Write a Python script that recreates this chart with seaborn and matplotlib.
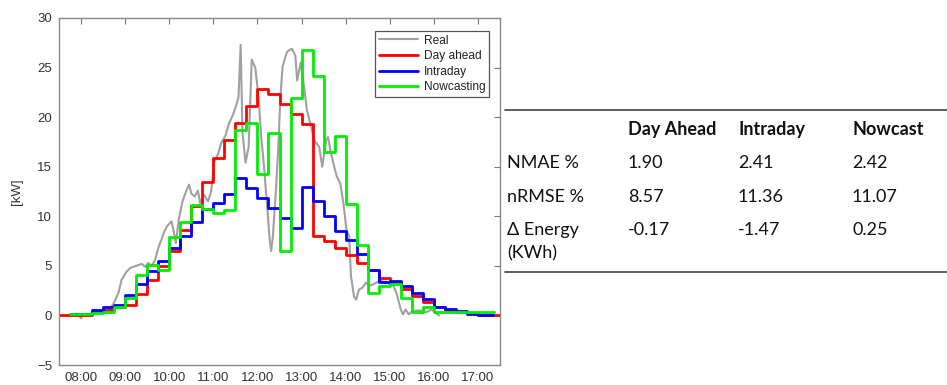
import numpy as np
import pandas as pd
import matplotlib
matplotlib.use("Agg")
import matplotlib.pyplot as plt
from matplotlib.lines import Line2D
import seaborn as sns

# ---------------- data ----------------
tick_hours = [8, 9, 10, 11, 12, 13, 14, 15, 16, 17]
tick_labels = ["08:00", "09:00", "10:00", "11:00", "12:00", "13:00",
               "14:00", "15:00", "16:00", "17:00"]

# measured power (time in decimal hours, kW)
real_t = [7.75, 7.95, 8.0, 8.05, 8.3, 8.55, 8.65, 8.75, 8.85, 8.92, 9.03, 9.12,
          9.25, 9.38, 9.45, 9.52, 9.6, 9.68, 9.75, 9.82, 9.88, 9.95, 10.05,
          10.1, 10.15, 10.22, 10.3, 10.38, 10.45, 10.5, 10.58, 10.65, 10.7,
          10.78, 10.88, 10.95, 11.02, 11.1, 11.18, 11.28, 11.35, 11.45, 11.52,
          11.57, 11.62, 11.66, 11.73, 11.8, 11.87, 11.95, 12.03, 12.08, 12.15,
          12.22, 12.28, 12.31, 12.35, 12.42, 12.47, 12.52, 12.57, 12.67, 12.78,
          12.86, 12.9, 12.98, 13.06, 13.12, 13.22, 13.28, 13.4, 13.47, 13.56,
          13.6, 13.67, 13.74, 13.8, 13.88, 13.95, 14.02, 14.08, 14.12, 14.19,
          14.24, 14.3, 14.38, 14.46, 14.53, 14.62, 14.69, 14.8, 14.9, 14.98,
          15.08, 15.15, 15.25, 15.3, 15.36, 15.43, 15.5, 15.6, 15.7, 15.82,
          15.95, 16.05, 16.12]
real_v = [0.0, 0.05, -0.3, 0.1, 0.2, 0.3, 0.6, 1.3, 2.3, 3.6, 4.4, 4.8,
          5.0, 5.2, 4.9, 5.3, 5.0, 5.6, 6.8, 7.6, 8.4, 9.0, 9.5,
          8.5, 7.3, 9.8, 11.5, 12.5, 13.2, 12.3, 12.0, 12.6, 11.3,
          12.2, 11.5, 12.5, 15.5, 16.2, 17.4, 18.2, 19.3, 20.3, 21.2,
          22.0, 27.3, 18.5, 15.4, 17.0, 25.8, 25.0, 21.8, 18.3, 15.0,
          11.0, 7.5, 6.5, 8.0, 12.7, 16.7, 22.0, 25.1, 26.6, 26.9,
          26.2, 23.7, 25.5, 23.0, 20.7, 19.0, 17.7, 17.0, 15.0, 17.7,
          18.0, 16.3, 15.0, 14.0, 13.3, 11.3, 8.6, 8.0, 4.0, 1.9,
          1.6, 2.6, 2.8, 3.3, 3.0, 3.1, 3.3, 3.5, 3.3, 3.2,
          3.0, 2.3, 0.6, 0.1, 0.6, 0.1, 0.4, 0.5, 0.5, 0.3,
          0.6, 0.2, 0.0]

# 15-minute forecasts (kW); first slot start and end of last slot in hours
day_ahead_start, day_ahead_end = 7.5, 17.5
day_ahead = [0.0, 0.0, 0.0, 0.3, 0.5, 0.8, 1.1, 2.2, 3.6, 5.0, 6.5, 8.6, 11.0,
             13.5, 15.9, 17.7, 19.4, 21.1, 22.8, 22.3, 21.3, 20.3, 19.3, 8.05,
             7.5, 6.8, 6.05, 5.3, 4.6, 3.8, 3.3, 2.7, 1.95, 1.35, 0.8, 0.5,
             0.35, 0.2, 0.05, 0.05]

intraday_start, intraday_end = 7.75, 17.33
intraday = [0.1, 0.1, 0.5, 0.85, 1.1, 2.1, 3.2, 4.45, 5.5, 6.8, 8.05, 9.4,
            10.7, 11.3, 12.2, 13.9, 12.9, 11.85, 10.85, 9.8, 8.8, 13.0, 11.5,
            10.0, 8.5, 7.65, 6.15, 4.6, 3.35, 3.45, 3.0, 2.3, 1.65, 0.9, 0.6,
            0.4, 0.12, 0.05, 0.05]

nowcast_start, nowcast_end = 7.75, 17.37
nowcast = [0.15, 0.15, 0.2, 0.3, 0.8, 1.8, 4.1, 5.1, 4.6, 7.9, 9.4, 11.1,
           10.7, 10.3, 10.6, 18.7, 19.4, 14.3, 18.4, 6.5, 21.9, 26.8, 24.2,
           16.5, 18.1, 11.2, 7.1, 2.3, 3.0, 3.2, 1.8, 0.3, 0.9, 0.35, 0.35,
           0.35, 0.35, 0.35, 0.35]

series_names = ["Real", "Day ahead", "Intraday", "Nowcasting"]
series_colors = ["#a0a0a0", "#ff0000", "#0000ff", "#00ee00"]

# table
table_cols = ["Day Ahead", "Intraday", "Nowcast"]
table_rows = ["NMAE %", "nRMSE %", "\u0394 Energy\n(KWh)"]
table_vals = [["1.90", "2.41", "2.42"],
              ["8.57", "11.36", "11.07"],
              ["-0.17", "-1.47", "0.25"]]

# ---------------- figure ----------------
sns.set_style("white")
plt.rcParams["font.family"] = ["Liberation Sans", "DejaVu Sans"]

W, H = 947, 385
fig = plt.figure(figsize=(W / 100, H / 100), dpi=100)
ax = fig.add_axes([59 / W, 1 - 365 / H, 441 / W, 347 / H])


def step_frame(start, end, vals):
    t = start + 0.25 * np.arange(len(vals))
    t = np.append(t, end)
    v = np.append(vals, vals[-1])
    return pd.DataFrame({"t": t, "v": v})


sns.lineplot(x=real_t, y=real_v, ax=ax, color=series_colors[0], lw=1.5,
             label=series_names[0], estimator=None, sort=False)
for (start, end, vals), name, col in zip(
        [(day_ahead_start, day_ahead_end, day_ahead),
         (intraday_start, intraday_end, intraday),
         (nowcast_start, nowcast_end, nowcast)],
        series_names[1:], series_colors[1:]):
    df = step_frame(start, end, vals)
    sns.lineplot(data=df, x="t", y="v", ax=ax, color=col, lw=2.0, label=name,
                 drawstyle="steps-post", estimator=None, sort=False)

ax.set_xlim(7.5, 17.5)
ax.set_ylim(-5, 30)
ax.set_xticks(tick_hours)
ax.set_xticklabels(tick_labels)
ax.set_yticks(np.arange(-5, 31, 5))
ax.set_xlabel("")
ax.set_ylabel("[kW]", fontsize=9.5, color="#333333", labelpad=10)
ax.tick_params(direction="in", top=True, right=True, length=4, width=0.8,
               colors="#777777", labelcolor="#333333", labelsize=9.5, pad=5)
for s in ax.spines.values():
    s.set_color("#888888")
    s.set_linewidth(1.0)

leg = ax.legend(loc="upper right", bbox_to_anchor=(0.975, 0.9625),
                borderaxespad=0, fontsize=8.6, handlelength=3.3,
                handletextpad=0.45, labelspacing=0.3, borderpad=0.3,
                fancybox=False, framealpha=1)
leg.get_frame().set_edgecolor("#555555")
leg.get_frame().set_linewidth(0.9)
for t in leg.get_texts():
    t.set_color("#222222")

# ---------------- table ----------------
tfont = ["Lato", "DejaVu Sans"]
fs = 13
col_x = [628, 738, 852]
row_x = 507
header_y = 135
row_y = [168, 202, 235]


def fx(px):
    return px / W


def fy(py):
    return 1 - py / H


for cx, name in zip(col_x, table_cols):
    fig.text(fx(cx), fy(header_y), name, family=tfont, fontsize=fs,
             fontweight="bold", color="#111111", va="baseline", ha="left")
for ry, rname, vals in zip(row_y, table_rows, table_vals):
    fig.text(fx(row_x), fy(ry), rname, family=tfont, fontsize=fs,
             color="#111111", va="top" if "\n" in rname else "baseline",
             ha="left", linespacing=1.3) if False else None
    lines = rname.split("\n")
    for i, ln in enumerate(lines):
        fig.text(fx(row_x), fy(ry + i * 23), ln, family=tfont, fontsize=fs,
                 color="#111111", va="baseline", ha="left")
    for cx, v in zip(col_x, vals):
        fig.text(fx(cx), fy(ry), v, family=tfont, fontsize=fs,
                 color="#111111", va="baseline", ha="left")

for ly in (110, 272):
    fig.add_artist(Line2D([fx(505), fx(947)], [fy(ly), fy(ly)],
                          color="#444444", lw=1.2, transform=fig.transFigure))

fig.savefig("out.png", dpi=100)
